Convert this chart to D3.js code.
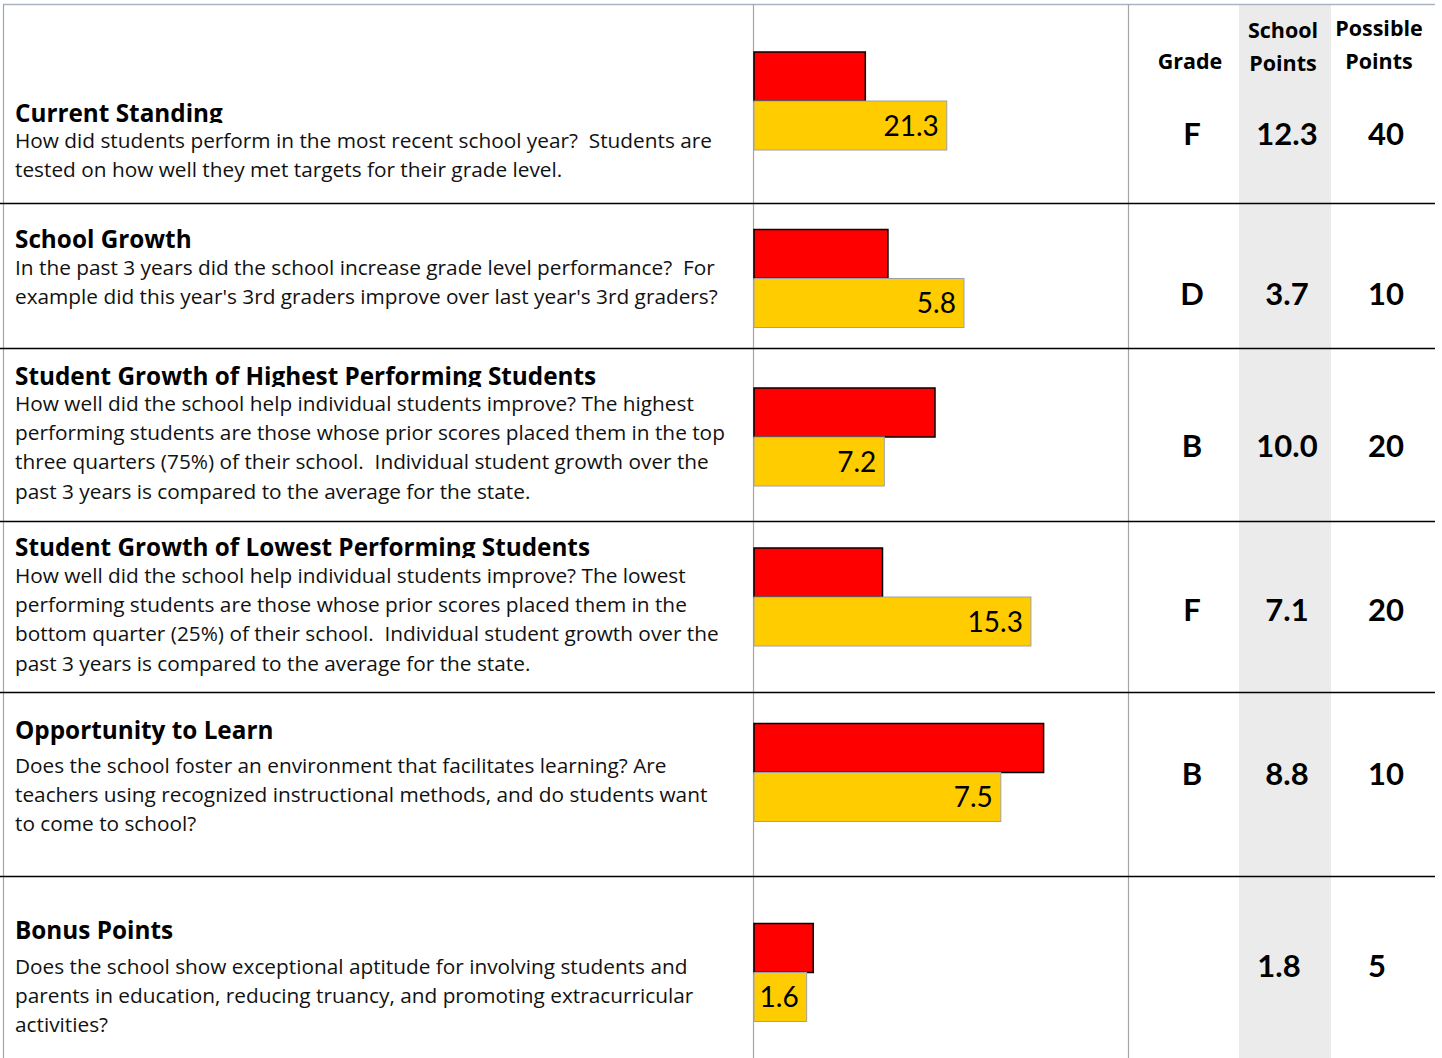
<!DOCTYPE html>
<html>
<head>
<meta charset="utf-8">
<script src="https://cdn.jsdelivr.net/npm/d3@7"></script>
<style>
  html, body { margin: 0; padding: 0; background: #fff; }
  svg { display: block; font-family: "Open Sans", Lato, sans-serif; }
  .title { font-weight: 700; font-size: 24.3px; fill: #000; }
  .desc { font-size: 20.8px; fill: #111; }
  .head { font-weight: 700; font-size: 21.5px; text-anchor: middle; }
  .big { font-family: Lato, sans-serif; font-weight: 700; font-size: 31px; text-anchor: middle; }
  .barlabel { font-family: Lato, sans-serif; font-size: 28px; text-anchor: end; }
</style>
</head>
<body>
<graph></graph>
<script>
  var titles = [
    "Current Standing",
    "School Growth",
    "Student Growth of Highest Performing Students",
    "Student Growth of Lowest Performing Students",
    "Opportunity to Learn",
    "Bonus Points"
  ];

  var descriptions = [
    ["How did students perform in the most recent school year?  Students are",
     "tested on how well they met targets for their grade level."],
    ["In the past 3 years did the school increase grade level performance?  For",
     "example did this year's 3rd graders improve over last year's 3rd graders?"],
    ["How well did the school help individual students improve? The highest",
     "performing students are those whose prior scores placed them in the top",
     "three quarters (75%) of their school.  Individual student growth over the",
     "past 3 years is compared to the average for the state."],
    ["How well did the school help individual students improve? The lowest",
     "performing students are those whose prior scores placed them in the",
     "bottom quarter (25%) of their school.  Individual student growth over the",
     "past 3 years is compared to the average for the state."],
    ["Does the school foster an environment that facilitates learning? Are",
     "teachers using recognized instructional methods, and do students want",
     "to come to school?"],
    ["Does the school show exceptional aptitude for involving students and",
     "parents in education, reducing truancy, and promoting extracurricular",
     "activities?"]
  ];

  var grades = ["F", "D", "B", "F", "B", ""];
  var schoolPoints = [12.3, 3.7, 10.0, 7.1, 8.8, 1.8];
  var comparison = [21.3, 5.8, 7.2, 15.3, 7.5, 1.6];
  var possiblePoints = [40, 10, 20, 20, 10, 5];
  var axisMax = [40, 10, 20, 20, 11, 11];

  // ---- layout of the table ----
  var width = 1442, height = 1058;
  var rowTop = [4, 203, 348, 521, 692, 876];
  var rowBottom = [203, 348, 521, 692, 876, 1058];
  var titleBase = [122, 248, 385, 556, 739, 939];
  var titleClip = [123, null, 387, 558, null, null];
  var descBase = [148, 275, 411, 583, 773, 974];
  var lineStep = 29.2;
  var barMid = [101, 278.5, 437, 597, 772.5, 972.5];
  var valueMid = [134, 294, 446, 610, 774, 966];
  var barH = 49;

  var col = { bar: 754, div1: 753, div2: 1128, right: 1435,
              grade: 1190, school: 1287, possible: 1386,
              shadeL: 1239, shadeR: 1331 };

  var fmt1 = d3.format(".1f");

  var svg = d3.select("graph").append("svg")
      .attr("width", width)
      .attr("height", height);

  var defs = svg.append("defs");

  // shaded "School Points" column
  svg.append("rect")
      .attr("x", col.shadeL)
      .attr("y", 4)
      .attr("width", col.shadeR - col.shadeL)
      .attr("height", height - 4)
      .attr("fill", "#ebebeb");

  // white patch behind "Possible Points" header
  svg.append("rect")
      .attr("x", col.shadeR)
      .attr("y", 9)
      .attr("width", col.right - col.shadeR)
      .attr("height", 69)
      .attr("fill", "#fff");

  // outer / column borders
  svg.append("line").attr("x1", 3).attr("x2", col.right).attr("y1", 4.5).attr("y2", 4.5)
      .attr("stroke", "#a9b3c2").attr("stroke-width", 1.5);
  [3, col.div1, col.div2].forEach(function(x) {
    svg.append("line")
        .attr("x1", x + 0.5).attr("x2", x + 0.5)
        .attr("y1", 4).attr("y2", height)
        .attr("stroke", "#a6a6a6").attr("stroke-width", 1.2);
  });

  // row separators
  svg.selectAll(".sep")
      .data(rowBottom.slice(0, 5))
      .enter().append("line")
      .attr("class", "sep")
      .attr("x1", 0).attr("x2", col.right)
      .attr("y1", d => d + 0.5).attr("y2", d => d + 0.5)
      .attr("stroke", "#000").attr("stroke-width", 1.5);

  // header
  svg.append("text").attr("class", "head").attr("x", col.grade).attr("y", 69).text("Grade");
  svg.append("text").attr("class", "head").attr("x", col.school - 4).attr("y", 38).text("School");
  svg.append("text").attr("class", "head").attr("x", col.school - 4).attr("y", 71).text("Points");
  svg.append("text").attr("class", "head").attr("x", col.possible - 7).attr("y", 36).text("Possible");
  svg.append("text").attr("class", "head").attr("x", col.possible - 7).attr("y", 69).text("Points");

  // one group per row
  var rows = svg.selectAll(".row")
      .data(titles)
      .enter().append("g")
      .attr("class", "row");

  rows.each(function(t, i) {
    var g = d3.select(this);

    var title = g.append("text")
        .attr("class", "title")
        .attr("x", 15)
        .attr("y", titleBase[i])
        .text(t);

    // the source cuts the descenders off some titles
    if (titleClip[i] !== null) {
      defs.append("clipPath").attr("id", "clip" + i)
        .append("rect")
        .attr("x", 0).attr("y", rowTop[i])
        .attr("width", col.div1).attr("height", titleClip[i] - rowTop[i]);
      title.attr("clip-path", "url(#clip" + i + ")");
    }

    g.selectAll(".desc")
        .data(descriptions[i])
        .enter().append("text")
        .attr("class", "desc")
        .attr("x", 15)
        .attr("y", (d, j) => descBase[i] + j * lineStep)
        .attr("xml:space", "preserve")
        .style("white-space", "pre")
        .text(d => d);

    // bars: school points (red) over comparison (yellow)
    var x = d3.scaleLinear().domain([0, axisMax[i]]).range([col.bar, col.bar + 362]);

    g.append("rect")
        .attr("x", x(0))
        .attr("y", barMid[i] - barH)
        .attr("width", x(schoolPoints[i]) - x(0))
        .attr("height", barH)
        .attr("fill", "#ff0000")
        .attr("stroke", "#000")
        .attr("stroke-width", 1.5);

    g.append("rect")
        .attr("x", x(0))
        .attr("y", barMid[i])
        .attr("width", x(comparison[i]) - x(0))
        .attr("height", barH)
        .attr("fill", "#ffcc00")
        .attr("stroke", "#a0a0a0")
        .attr("stroke-width", 1);

    g.append("text")
        .attr("class", "barlabel")
        .attr("x", x(comparison[i]) - 8)
        .attr("y", barMid[i] + barH / 2 + 10)
        .text(fmt1(comparison[i]));

    // grade and points
    g.append("text").attr("class", "big")
        .attr("x", col.grade + 2).attr("y", valueMid[i] + 11)
        .text(grades[i]);
    g.append("text").attr("class", "big")
        .attr("x", i === 5 ? col.school - 8 : col.school).attr("y", valueMid[i] + 11)
        .text(fmt1(schoolPoints[i]));
    g.append("text").attr("class", "big")
        .attr("x", i === 5 ? col.possible - 9 : col.possible).attr("y", valueMid[i] + 11)
        .text(possiblePoints[i]);
  });
</script>
</body>
</html>
